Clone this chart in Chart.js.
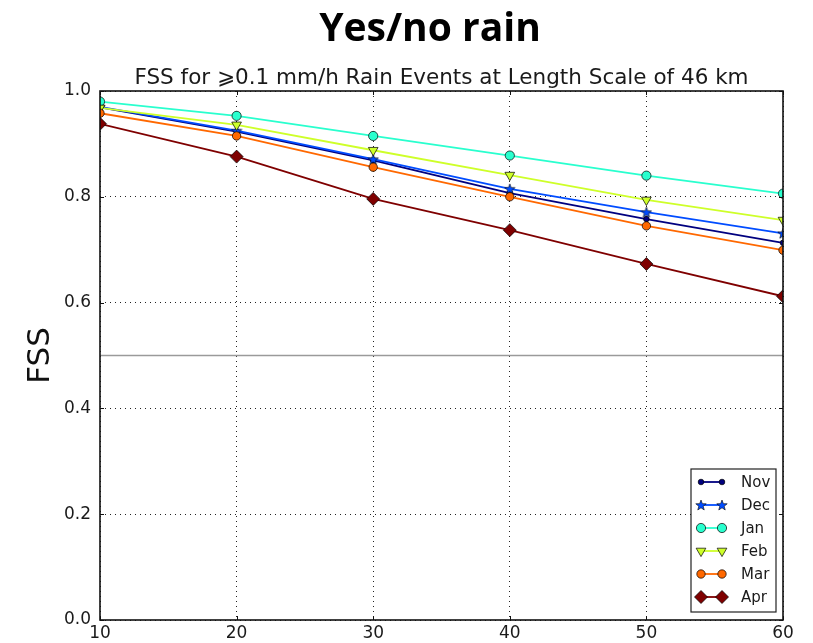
<!DOCTYPE html>
<html>
<head>
<meta charset="utf-8">
<script src="https://cdn.jsdelivr.net/npm/chart.js@4/dist/chart.umd.min.js"></script>
<style>
  html, body { margin: 0; padding: 0; background: #fff; }
  #wrap { width: 813px; height: 643px; }
</style>
</head>
<body>
<div id="wrap"><canvas id="fss"></canvas></div>
<script>
// values
const lengthScales = [10, 20, 30, 40, 50, 60];
const months = ["Nov", "Dec", "Jan", "Feb", "Mar", "Apr"];
const novFss = [0.969, 0.923, 0.869, 0.807, 0.758, 0.713];
const decFss = [0.970, 0.925, 0.871, 0.815, 0.771, 0.731];
const janFss = [0.980, 0.953, 0.915, 0.878, 0.840, 0.806];
const febFss = [0.968, 0.936, 0.888, 0.841, 0.794, 0.756];
const marFss = [0.958, 0.915, 0.856, 0.800, 0.745, 0.699];
const aprFss = [0.938, 0.876, 0.796, 0.737, 0.673, 0.612];
const yTicks = [0.0, 0.2, 0.4, 0.6, 0.8, 1.0];
const threshold = 0.5;

const mainTitle = "Yes/no rain";
const subTitle = "FSS for \u2A7E0.1 mm/h Rain Events at Length Scale of 46 km";

function makeStar(size, fill) {
	const c = document.createElement("canvas");
	c.width = size;
	c.height = size;
	const ctx = c.getContext("2d");
	const r = size / 2 - 0.5;
	const cx = size / 2;
	const cy = size / 2 + 0.5;
	ctx.beginPath();
	for (let i = 0; i < 10; i++) {
		const rr = i % 2 === 0 ? r : r * 0.42;
		const a = -Math.PI / 2 + (i * Math.PI) / 5;
		const px = cx + rr * Math.cos(a);
		const py = cy + rr * Math.sin(a);
		if (i === 0) ctx.moveTo(px, py);
		else ctx.lineTo(px, py);
	}
	ctx.closePath();
	ctx.fillStyle = fill;
	ctx.fill();
	ctx.lineWidth = 0.6;
	ctx.strokeStyle = "#000";
	ctx.stroke();
	return c;
}

function series(values) {
	return lengthScales.map((x, i) => ({ x: x, y: values[i] }));
}

const styles = [
	{ color: "#00007f", pointStyle: "circle", radius: 2.8, rotation: 0 },
	{ color: "#004cff", pointStyle: makeStar(12, "#004cff"), radius: 5, rotation: 0 },
	{ color: "#29ffce", pointStyle: "circle", radius: 4.6, rotation: 0 },
	{ color: "#ceff29", pointStyle: "triangle", radius: 5.6, rotation: 180 },
	{ color: "#ff6800", pointStyle: "circle", radius: 4.2, rotation: 0 },
	{ color: "#7f0000", pointStyle: "rectRot", radius: 6.5, rotation: 0 },
];
const allValues = [novFss, decFss, janFss, febFss, marFss, aprFss];

const datasets = months.map((m, i) => ({
	label: m,
	data: series(allValues[i]),
	borderColor: styles[i].color,
	backgroundColor: styles[i].color,
	borderWidth: 1.8,
	pointStyle: styles[i].pointStyle,
	pointRadius: styles[i].radius,
	pointHoverRadius: styles[i].radius,
	pointRotation: styles[i].rotation,
	pointBackgroundColor: styles[i].color,
	pointBorderColor: "#000",
	pointBorderWidth: 0.7,
	tension: 0,
	clip: 0,
	order: months.length - i,
}));

const extras = {
	id: "extras",
	beforeDatasetsDraw(chart) {
		const { ctx, chartArea, scales } = chart;
		const y = scales.y.getPixelForValue(threshold);
		ctx.save();
		ctx.strokeStyle = "#9a9a9a";
		ctx.lineWidth = 1.6;
		ctx.beginPath();
		ctx.moveTo(chartArea.left, y);
		ctx.lineTo(chartArea.right, y);
		ctx.stroke();
		ctx.restore();
	},
	afterDraw(chart) {
		const { ctx, chartArea, scales } = chart;
		ctx.save();
		// frame
		ctx.strokeStyle = "#111";
		ctx.lineWidth = 1.6;
		ctx.strokeRect(chartArea.left, chartArea.top, chartArea.right - chartArea.left, chartArea.bottom - chartArea.top);
		// inward ticks
		ctx.lineWidth = 1;
		ctx.beginPath();
		for (const t of yTicks) {
			const py = Math.round(scales.y.getPixelForValue(t)) + 0.5;
			ctx.moveTo(chartArea.left, py);
			ctx.lineTo(chartArea.left + 4, py);
			ctx.moveTo(chartArea.right, py);
			ctx.lineTo(chartArea.right - 4, py);
		}
		for (const x of lengthScales) {
			const px = Math.round(scales.x.getPixelForValue(x)) + 0.5;
			ctx.moveTo(px, chartArea.bottom);
			ctx.lineTo(px, chartArea.bottom - 4);
			ctx.moveTo(px, chartArea.top);
			ctx.lineTo(px, chartArea.top + 4);
		}
		ctx.stroke();

		// titles
		ctx.fillStyle = "#000";
		ctx.textAlign = "center";
		ctx.textBaseline = "alphabetic";
		ctx.font = "bold 39px 'Open Sans', sans-serif";
		ctx.fillText(mainTitle, 430, 41);
		ctx.fillStyle = "#1a1a1a";
		ctx.font = "21.5px 'DejaVu Sans', sans-serif";
		ctx.fillText(subTitle, (chartArea.left + chartArea.right) / 2, 84);

		// legend inside lower right
		const boxRight = chartArea.right - 7;
		const boxBottom = chartArea.bottom - 8;
		const boxW = 85;
		const rowH = 23;
		const boxH = 143;
		const boxLeft = boxRight - boxW;
		const boxTop = boxBottom - boxH;
		ctx.fillStyle = "#fff";
		ctx.fillRect(boxLeft, boxTop, boxW, boxH);
		ctx.strokeStyle = "#222";
		ctx.lineWidth = 1.2;
		ctx.strokeRect(boxLeft, boxTop, boxW, boxH);
		ctx.font = "15px 'DejaVu Sans', sans-serif";
		ctx.textAlign = "left";
		ctx.textBaseline = "middle";
		chart.data.datasets.forEach((ds, i) => {
			const ry = boxTop + 13 + i * rowH;
			const x1 = boxLeft + 10;
			const x2 = boxLeft + 31;
			ctx.strokeStyle = ds.borderColor;
			ctx.lineWidth = ds.borderWidth;
			ctx.beginPath();
			ctx.moveTo(x1, ry);
			ctx.lineTo(x2, ry);
			ctx.stroke();
			const opts = {
				pointStyle: ds.pointStyle,
				radius: ds.pointRadius,
				rotation: ds.pointRotation,
				borderWidth: ds.pointBorderWidth,
			};
			ctx.fillStyle = ds.pointBackgroundColor;
			ctx.strokeStyle = ds.pointBorderColor;
			ctx.lineWidth = ds.pointBorderWidth;
			Chart.helpers.drawPoint(ctx, opts, x1, ry);
			Chart.helpers.drawPoint(ctx, opts, x2, ry);
			ctx.fillStyle = "#1a1a1a";
			ctx.fillText(ds.label, boxLeft + 50, ry + 1);
		});
		ctx.restore();
	},
};

new Chart(document.getElementById("fss"), {
	type: "line",
	data: { datasets: datasets },
	options: {
		responsive: true,
		maintainAspectRatio: false,
		animation: false,
		events: [],
		layout: { padding: { top: 91, right: 30, left: 0, bottom: 0 } },
		plugins: {
			legend: { display: false },
			tooltip: { enabled: false },
		},
		scales: {
			x: {
				type: "linear",
				min: 10,
				max: 60,
				afterFit: (s) => { s.height = 23; },
				afterBuildTicks: (s) => { s.ticks = lengthScales.map((v) => ({ value: v })); },
				ticks: {
					color: "#1a1a1a",
					font: { family: "'DejaVu Sans'", size: 17 },
					padding: 3,
					maxRotation: 0,
				},
				grid: { color: "#222", lineWidth: 1, drawTicks: false },
				border: { display: false, dash: [1, 4] },
			},
			y: {
				min: 0,
				max: 1,
				afterFit: (s) => { s.width = 100; },
				afterBuildTicks: (s) => { s.ticks = yTicks.map((v) => ({ value: v })); },
				ticks: {
					color: "#1a1a1a",
					font: { family: "'DejaVu Sans'", size: 17 },
					padding: 9,
					callback: (v) => v.toFixed(1),
				},
				title: {
					display: true,
					text: "FSS",
					color: "#111",
					font: { family: "'DejaVu Sans'", size: 31 },
					padding: { top: 22, bottom: 0 },
				},
				grid: { color: "#222", lineWidth: 1, drawTicks: false },
				border: { display: false, dash: [1, 4] },
			},
		},
	},
	plugins: [extras],
});
</script>
</body>
</html>
